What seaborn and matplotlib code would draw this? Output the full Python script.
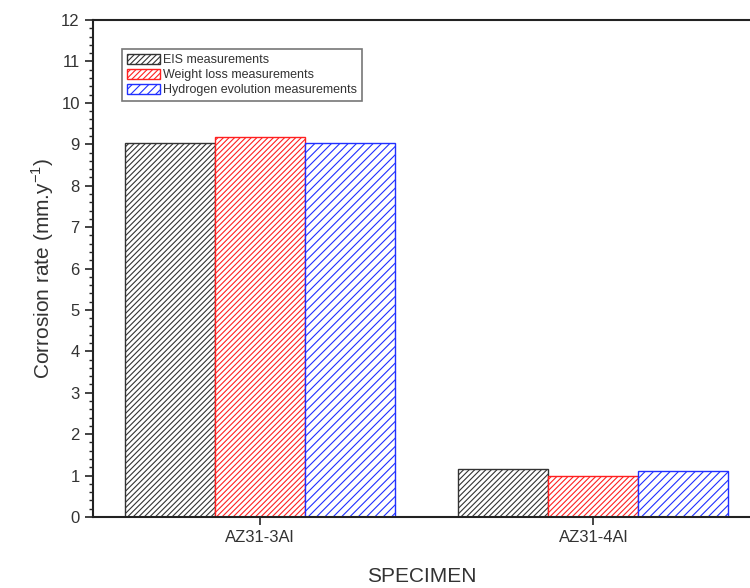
import matplotlib
matplotlib.use("Agg")
import matplotlib.pyplot as plt
import seaborn as sns
import pandas as pd
from matplotlib.ticker import MultipleLocator
from matplotlib.patches import Patch

specimens = ["AZ31-3Al", "AZ31-4Al"]
methods = ["EIS measurements", "Weight loss measurements", "Hydrogen evolution measurements"]
eis = [9.02, 1.17]
weight_loss = [9.18, 1.0]
hydrogen = [9.02, 1.1]

colors = ["#333333", "#ff2020", "#2030ff"]
hatches = ["//////", "//////", "////"]

rows = []
for m, vals in zip(methods, [eis, weight_loss, hydrogen]):
    for s, v in zip(specimens, vals):
        rows.append({"Specimen": s, "Method": m, "Rate": v})
df = pd.DataFrame(rows)

sns.set_style("ticks")
plt.rcParams['font.family'] = ['Liberation Sans', 'DejaVu Sans']
plt.rcParams['hatch.linewidth'] = 0.8

fig = plt.figure(figsize=(7.5, 5.88), dpi=100)
ax = fig.add_axes([0.124, 0.1207, 0.876, 0.8453])

sns.barplot(data=df, x="Specimen", y="Rate", hue="Method", hue_order=methods,
            order=specimens, palette=colors, fill=False, width=0.81, gap=0,
            ax=ax, legend=False, err_kws={'linewidth': 0})

bars = [p for p in ax.patches]
for i, p in enumerate(bars):
    k = i // 2
    p.set_hatch(hatches[k])
    p.set_edgecolor(colors[k])
    p.set_facecolor("white")
    p.set_fill(True)
    p.set_linewidth(1.0)

ax.set_ylim(0, 12)
ax.set_xlim(-0.5, 1.47)
ax.yaxis.set_major_locator(MultipleLocator(1))
ax.yaxis.set_minor_locator(MultipleLocator(0.2))
ax.tick_params(axis='y', which='major', length=6, width=1.2, labelsize=12, direction='out',
               color='#222222', labelcolor='#333333')
ax.tick_params(axis='y', which='minor', length=3, width=1.0, direction='out')
ax.tick_params(axis='x', which='major', length=6, width=1.2, labelsize=12, direction='out',
               labelcolor='#333333')
for s in ["left", "bottom", "top"]:
    ax.spines[s].set_linewidth(1.5)
    ax.spines[s].set_color("#222222")
ax.spines["right"].set_visible(False)

ax.set_ylabel("Corrosion rate (mm.y$^{\\mathregular{-1}}$)", fontsize=15, color="#333333")
ax.set_xlabel("SPECIMEN", fontsize=15, color="#333333", labelpad=16)

handles = [Patch(facecolor="white", edgecolor=c, hatch=h, label=m)
           for c, h, m in zip(colors, hatches, methods)]
leg = ax.legend(handles=handles, loc="upper left", bbox_to_anchor=(0.035, 0.955),
                fontsize=9, frameon=True, fancybox=False, edgecolor="#555555",
                handlelength=2.6, handleheight=0.9, handletextpad=0.3,
                labelspacing=0.2, borderpad=0.4)
leg.get_frame().set_linewidth(1.2)
for t in leg.get_texts():
    t.set_color("#333333")

fig.savefig("out.png", dpi=100)
